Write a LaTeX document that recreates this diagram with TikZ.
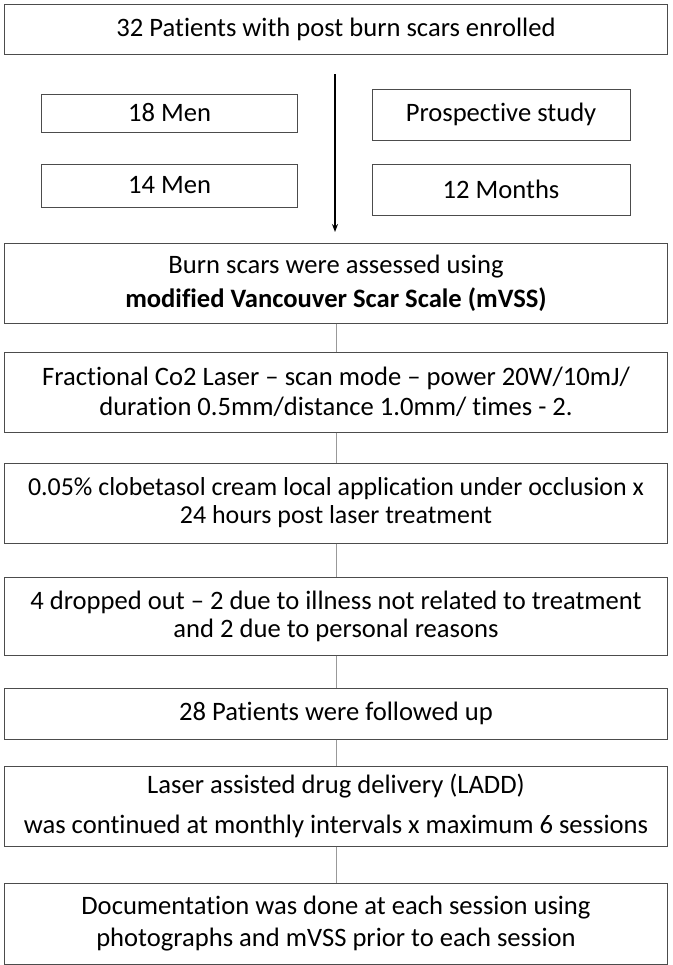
\documentclass[tikz,border=0pt]{standalone}
\usepackage{fontspec}
\setmainfont{Carlito}[Ligatures=NoCommon]
\usetikzlibrary{arrows.meta}
\tikzset{
  box/.style={draw=black!70, line width=1bp, rectangle, inner sep=0pt, align=center,
    font=\fontsize{26.7}{32}\selectfont},
  wide/.style={box, minimum width=662bp},
  small/.style={box},
  conn/.style={draw=black!40, line width=0.8bp},
  arr/.style={draw=black, line width=1.4bp, -{Stealth[length=8bp,width=6bp]}}
}
\begin{document}
\begin{tikzpicture}[x=1bp,y=-1bp]
\useasboundingbox (0,0) rectangle (673,965);
\node[wide, minimum height=50bp] (b1) at (336,29) {32 Patients with post burn scars enrolled};
\node[small, minimum width=255bp, minimum height=38bp] (m1) at (169.5,113) {18 Men};
\node[small, minimum width=255bp, minimum height=43bp] (m2) at (169.5,185.5) {14 Men};
\node[small, minimum width=258bp, minimum height=51bp] (p1) at (501,114.5) {Prospective study};
\node[small, minimum width=258bp, minimum height=51bp] (p2) at (501,189.5) {12 Months};
\node[wide, minimum height=80bp, font=\fontsize{26.7}{34}\selectfont] (b2) at (336,283) {Burn scars were assessed using\\\textbf{modified Vancouver Scar Scale (mVSS)}};
\node[wide, minimum height=80bp, font=\fontsize{26.7}{30}\selectfont] (b3) at (336,392) {Fractional Co2 Laser -- scan mode -- power 20W/10mJ/\\duration 0.5mm/distance 1.0mm/ times - 2.};
\node[wide, minimum height=80bp, font=\fontsize{26}{28}\selectfont] (b4) at (336,503) {0.05\% clobetasol cream local application under occlusion x\\24 hours post laser treatment};
\node[wide, minimum height=78bp, font=\fontsize{26.7}{28}\selectfont] (b5) at (336,616) {4 dropped out -- 2 due to illness not related to treatment\\and 2 due to personal reasons};
\node[wide, minimum height=51bp] (b6) at (336,713.5) {28 Patients were followed up};
\node[wide, minimum height=80bp, font=\fontsize{26.7}{40}\selectfont] (b7) at (336,806) {Laser assisted drug delivery (LADD)\\was continued at monthly intervals x maximum 6 sessions};
\node[wide, minimum height=81bp, font=\fontsize{26.7}{32}\selectfont] (b8) at (336,923.5) {Documentation was done at each session using\\photographs and mVSS prior to each session};
\coordinate (as) at (335,74);
\coordinate (ae) at (335,232);
\draw[arr] (as) -- (ae);
\draw[conn] (b2) -- (b3);
\draw[conn] (b3) -- (b4);
\draw[conn] (b4) -- (b5);
\draw[conn] (b5) -- (b6);
\draw[conn] (b6) -- (b7);
\draw[conn] (b7) -- (b8);
\end{tikzpicture}
\end{document}
